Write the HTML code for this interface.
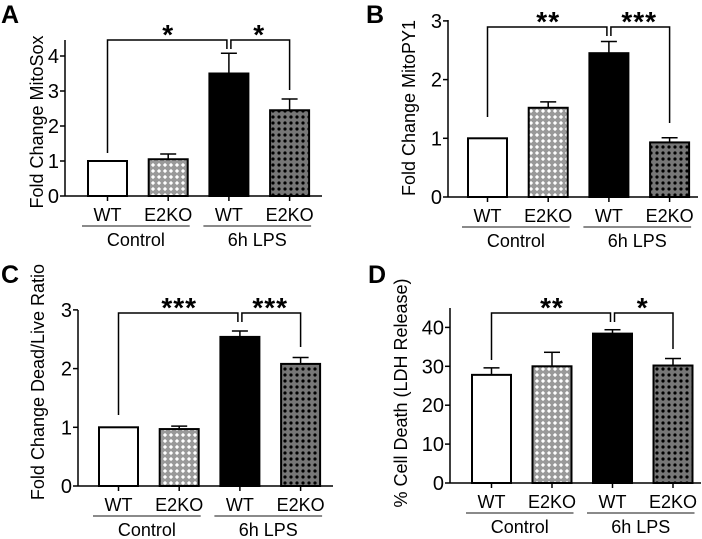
<!DOCTYPE html>
<html><head><meta charset="utf-8"><style>
body{margin:0;background:#fff;}
svg{display:block;font-family:"Liberation Sans",Arial,sans-serif;}
</style></head><body>
<svg id="chart" width="702" height="539" viewBox="0 0 702 539">
<defs>
<pattern id="lightCheck" width="6" height="6" patternUnits="userSpaceOnUse">
<rect width="6" height="6" fill="#999"/><rect x="1.5" y="1.5" width="3" height="3" fill="#fff" transform="rotate(45 3 3)"/>
</pattern>
<pattern id="darkDots" width="6" height="6" patternUnits="userSpaceOnUse">
<rect width="6" height="6" fill="#777"/><circle cx="3" cy="3" r="1.6" fill="#000"/>
</pattern>
</defs>
</svg>
<script>
const categories = ["WT","E2KO","WT","E2KO"];
const groups = ["Control","6h LPS"];
const valuesA = [1, 1.05, 3.5, 2.45];
const errorsA = [0, 0.15, 0.58, 0.32];
const valuesB = [1, 1.52, 2.45, 0.93];
const errorsB = [0, 0.1, 0.2, 0.08];
const valuesC = [1, 0.97, 2.54, 2.08];
const errorsC = [0, 0.05, 0.1, 0.11];
const valuesD = [27.8, 30, 38.4, 30.2];
const errorsD = [1.8, 3.6, 1.0, 1.8];
const ticksA = [0,1,2,3,4];
const ticksB = [0,1,2,3];
const ticksC = [0,1,2,3];
const ticksD = [0,10,20,30,40];
const starsA = ["*","*"];
const starsB = ["**","***"];
const starsC = ["***","***"];
const starsD = ["**","*"];

const svg = document.getElementById('chart');
const NS = "http://www.w3.org/2000/svg";
function mk(tag, attrs, parent){
  const e = document.createElementNS(NS, tag);
  for (const k in attrs) e.setAttribute(k, attrs[k]);
  (parent||svg).appendChild(e); return e;
}
const fills = ["#fff","url(#lightCheck)","#000","url(#darkDots)"];

function panel(p){
  const g = mk('g', {});
  
  
  const y = v => p.base - (v - 0) * p.scale;
  const barX = i => p.x0 + i * p.step;
  const cx = i => barX(i) + p.bw/2;
  const lbl = mk('text', {x:p.lx, y:p.ly, 'font-size':25, 'font-weight':'bold'}, g);
  lbl.textContent = p.id;
  
  
  const ax = mk('line', {x1:p.ax, x2:p.ax, y1:p.top, y2:p.base, stroke:'#000','stroke-width':1.5}, g);
  
  
  const xa = mk('line', {x1:p.ax, x2:p.xend, y1:p.base, y2:p.base, stroke:'#000','stroke-width':1.5}, g);
  
  
  p.ticks.forEach(t=>{
    mk('line', {x1:p.ax-5, x2:p.ax, y1:y(t), y2:y(t), stroke:'#000','stroke-width':1.5}, g);
    const tl = mk('text', {x:p.ax-6, y:y(t)+7, 'font-size':20, 'text-anchor':'end'}, g);
    tl.textContent = t;
    
    
  });
  const yt = mk('text', {x:0, y:0, 'font-size':p.tf, 'text-anchor':'middle', transform:`translate(${p.tx},${p.ty}) rotate(-90)`}, g);
  yt.textContent = p.title;
  
  
  p.values.forEach((v,i)=>{
    const top = y(v + p.errors[i]);
    if (p.errors[i] > 0) {
      mk('line', {x1:cx(i), x2:cx(i), y1:y(v), y2:top, stroke:'#000','stroke-width':1.5}, g);
      mk('line', {x1:cx(i)-8, x2:cx(i)+8, y1:top, y2:top, stroke:'#000','stroke-width':1.5}, g);
    }
    const b = mk('rect', {x:barX(i), y:y(v), width:p.bw, height:p.base - y(v), fill:fills[i], stroke:'#000','stroke-width':2}, g);
    
    
    mk('line', {x1:cx(i), x2:cx(i), y1:p.base, y2:p.base+5, stroke:'#000','stroke-width':1.5}, g);
    const c = mk('text', {x:cx(i), y:p.base+25, 'font-size':18, 'text-anchor':'middle'}, g);
    c.textContent = categories[i];
    
    
  });
  groups.forEach((gname,k)=>{
    const l = barX(2*k) - 6, r = barX(2*k+1) + p.bw + 2;
    mk('line', {x1:l, x2:r, y1:p.base+30, y2:p.base+30, stroke:'#444','stroke-width':1.2}, g);
    const t = mk('text', {x:(l+r)/2, y:p.base+50, 'font-size':18, 'text-anchor':'middle'}, g);
    t.textContent = gname;
    
    
  });
  const mid = cx(2);
  const bt = p.bt;
  const bg = mk('g', {fill:'none', stroke:'#000','stroke-width':1.5}, g);
  
  
  mk('polyline', {points:`${cx(0)},${p.lEnd} ${cx(0)},${bt} ${mid-2},${bt} ${mid-2},${bt+9}`}, bg);
  mk('polyline', {points:`${mid+2},${bt+9} ${mid+2},${bt} ${cx(3)},${bt} ${cx(3)},${p.rEnd}`}, bg);
  [[(cx(0)+mid)/2, p.stars[0]], [(mid+cx(3))/2, p.stars[1]]].forEach(([sx,s])=>{
    const st = mk('text', {x:sx, y:bt+4, 'font-size':28, 'font-weight':'bold', 'text-anchor':'middle', 'letter-spacing':1}, g);
    st.textContent = s;
    
    
  });
}

panel({id:'A', lx:1, ly:23, ax:65, base:196, scale:35, top:40, xend:322, x0:88, step:60.7, bw:39,
  values:valuesA, errors:errorsA, ticks:ticksA, title:'Fold Change MitoSox', tf:18, tx:43, ty:122,
  bt:40, lEnd:153, rEnd:90, stars:starsA});
panel({id:'B', lx:366, ly:23, ax:448, base:197, scale:58.7, top:20, xend:698, x0:468, step:60.7, bw:39,
  values:valuesB, errors:errorsB, ticks:ticksB, title:'Fold Change MitoPY1', tf:18, tx:415, ty:108,
  bt:27, lEnd:117, rEnd:123, stars:starsB});
panel({id:'C', lx:1, ly:283, ax:78, base:486, scale:58.7, top:310, xend:333, x0:99, step:60.7, bw:39,
  values:valuesC, errors:errorsC, ticks:ticksC, title:'Fold Change Dead/Live Ratio', tf:18, tx:44, ty:382,
  bt:313, lEnd:415, rEnd:347, stars:starsC});
panel({id:'D', lx:368, ly:283, ax:450, base:483, scale:3.89, top:308, xend:701, x0:472, step:60.5, bw:39,
  values:valuesD, errors:errorsD, ticks:ticksD, title:'% Cell Death (LDH Release)', tf:18, tx:407, ty:393,
  bt:313, lEnd:360, rEnd:349, stars:starsD});
</script>
</body></html>
